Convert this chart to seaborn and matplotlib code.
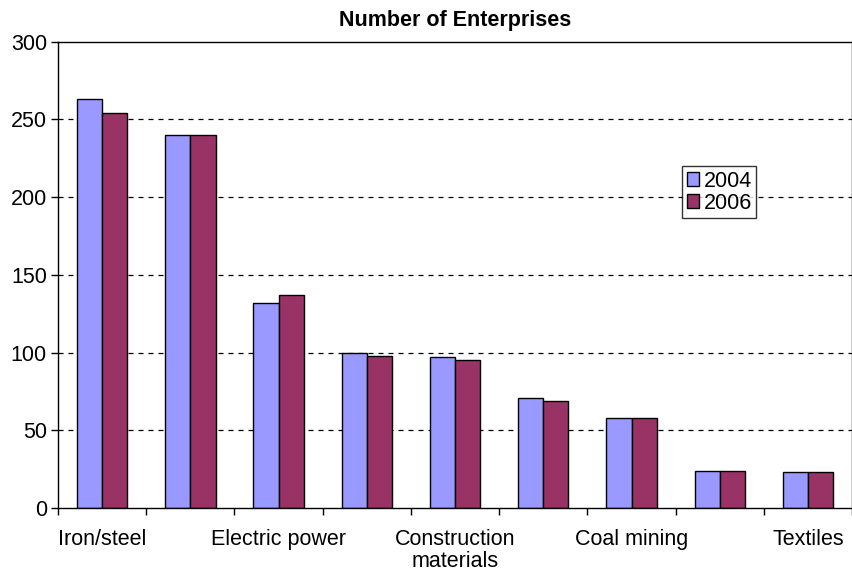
import numpy as np
import pandas as pd
import seaborn as sns
import matplotlib.pyplot as plt

# Step 1: data
categories = ['Iron/steel', 'Chemicals', 'Electric power', 'Nonferrous metals',
              'Construction\nmaterials', 'Paper', 'Coal mining', 'Petroleum', 'Textiles']
tick_labels = ['Iron/steel', '', 'Electric power', '', 'Construction\nmaterials',
               '', 'Coal mining', '', 'Textiles']
years = ['2004', '2006']
vals_2004 = [263, 240, 132, 100, 97, 71, 58, 24, 23]
vals_2006 = [254, 240, 137, 98, 95, 69, 58, 24, 23]

df = pd.DataFrame({
    'category': categories * 2,
    'year': [years[0]] * len(categories) + [years[1]] * len(categories),
    'count': vals_2004 + vals_2006,
})

# Step 2: style
sns.set_style('white')
plt.rcParams['font.family'] = ['Liberation Sans', 'DejaVu Sans']
plt.rcParams['text.color'] = 'black'
plt.rcParams['xtick.color'] = 'black'
plt.rcParams['ytick.color'] = 'black'

fig = plt.figure(figsize=(8.53, 5.72), dpi=100)
ax = fig.add_axes([0.068, 0.112, 0.931, 0.815])

sns.barplot(data=df, x='category', y='count', hue='year', order=categories,
            hue_order=years, palette=['#9999FF', '#993366'], width=0.57,
            edgecolor='black', linewidth=1, saturation=1, ax=ax)

# Step 3: axes
fs = 15.5
ax.set_ylim(0, 300)
ax.set_xlim(-0.5, len(categories) - 0.5)
ax.set_yticks(np.arange(0, 301, 50))
ax.set_xticks(np.arange(len(categories)))
ax.set_xticklabels(tick_labels, fontsize=fs, linespacing=1.1)
ax.set_xticks(np.arange(len(categories) + 1) - 0.5, minor=True)
ax.tick_params(axis='x', which='major', bottom=True, length=0, pad=15)
ax.tick_params(axis='x', which='minor', bottom=True, length=5, width=1, color='black', direction='out')
ax.tick_params(axis='y', left=True, length=5, width=1, color='black', direction='out', labelsize=fs, pad=3)
ax.set_xlabel('')
ax.set_ylabel('')
for y in range(50, 300, 50):
    ax.axhline(y, color='black', linestyle=(0, (4, 4)), linewidth=0.9, zorder=0)
for s in ax.spines.values():
    s.set_color('black')
    s.set_linewidth(1)

ax.set_title('Number of Enterprises', fontsize=fs, fontweight='bold', pad=11)

leg = ax.legend(loc='upper left', bbox_to_anchor=(0.786, 0.733), fontsize=fs,
                frameon=True, fancybox=False, edgecolor='black', handlelength=0.6,
                handleheight=0.6, handletextpad=0.2, borderpad=0.2, labelspacing=0.05,
                borderaxespad=0)
leg.get_frame().set_linewidth(1)
for t in leg.get_texts():
    t.set_color('black')

plt.savefig('out.png', dpi=100)
